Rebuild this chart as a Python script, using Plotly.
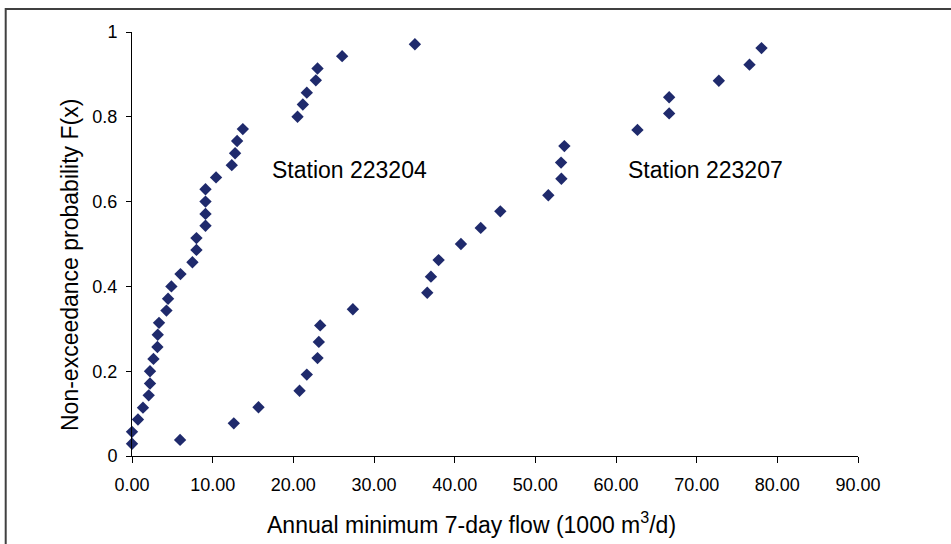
import plotly.graph_objects as go

# Station 223204
s204_x = [0.0, 0.0, 0.74, 1.36, 2.07, 2.23, 2.23, 2.66, 3.15, 3.19, 3.35, 4.27, 4.47, 4.88,
          6.01, 7.49, 7.99, 7.99, 9.11, 9.11, 9.11, 9.11, 10.42, 12.37, 12.78, 13.03, 13.74,
          20.52, 21.18, 21.67, 22.79, 23.0, 26.05, 35.07]
s204_y = [0.029, 0.057, 0.086, 0.114, 0.143, 0.171, 0.200, 0.229, 0.257, 0.286, 0.314, 0.343,
          0.371, 0.400, 0.429, 0.457, 0.486, 0.514, 0.543, 0.571, 0.600, 0.629, 0.657, 0.686,
          0.714, 0.743, 0.771, 0.800, 0.829, 0.857, 0.886, 0.914, 0.943, 0.971]

# Station 223207
s207_x = [5.96, 12.62, 15.68, 20.77, 21.67, 23.0, 23.16, 23.33, 27.38, 36.6, 37.06, 38.01,
          40.78, 43.23, 45.66, 51.61, 53.23, 53.19, 53.6, 62.66, 66.59, 66.59, 72.75, 76.55, 78.04]
s207_y = [0.038, 0.077, 0.115, 0.154, 0.192, 0.231, 0.269, 0.308, 0.346, 0.385, 0.423, 0.462,
          0.500, 0.538, 0.577, 0.615, 0.654, 0.692, 0.731, 0.769, 0.808, 0.846, 0.885, 0.923, 0.962]

x_ticks = [0, 10, 20, 30, 40, 50, 60, 70, 80, 90]
x_tick_text = ["0.00", "10.00", "20.00", "30.00", "40.00", "50.00", "60.00", "70.00", "80.00", "90.00"]
y_ticks = [0, 0.2, 0.4, 0.6, 0.8, 1]
y_tick_text = ["0", "0.2", "0.4", "0.6", "0.8", "1"]

labels = ["Station 223204", "Station 223207"]
label_x = [27.0, 71.05]
label_y = [0.675, 0.675]

x_title = "Annual minimum 7-day flow (1000 m<sup>3</sup>/d)"
y_title = "Non-exceedance probability F(x)"

FONT = "Liberation Sans, Arial, sans-serif"
MARK = dict(symbol="diamond", size=9.5, color="#1F2A6C", line=dict(width=0))

fig = go.Figure()
fig.add_trace(go.Scatter(x=s204_x, y=s204_y, mode="markers", marker=MARK,
                         cliponaxis=False, name=labels[0]))
fig.add_trace(go.Scatter(x=s207_x, y=s207_y, mode="markers", marker=MARK,
                         cliponaxis=False, name=labels[1]))

for t, x, y in zip(labels, label_x, label_y):
    fig.add_annotation(x=x, y=y, xref="x", yref="y", text=t, showarrow=False,
                       xanchor="center", yanchor="middle",
                       font=dict(family=FONT, size=23, color="black"))

L, R, T, B, W, H = 132, 93, 32, 88, 951, 544
pw, ph = W - L - R, H - T - B

def px(xp):
    return (xp - L) / pw

def py(yp):
    return (H - B - yp) / ph

# axis titles placed as annotations to match the reference offsets
fig.add_annotation(x=px(471.5), y=py(523), xref="paper", yref="paper", text=x_title,
                   showarrow=False, xanchor="center", yanchor="middle",
                   font=dict(family=FONT, size=23, color="black"))
fig.add_annotation(x=px(70), y=py(265), xref="paper", yref="paper", text=y_title,
                   showarrow=False, xanchor="center", yanchor="middle", textangle=-90,
                   font=dict(family=FONT, size=23, color="black"))

fig.add_shape(type="rect", xref="paper", yref="paper",
              x0=px(5.7), x1=px(955), y0=py(549), y1=py(9),
              line=dict(color="#404040", width=2), fillcolor="rgba(0,0,0,0)", layer="below")

fig.update_layout(
    width=W, height=H,
    margin=dict(l=L, r=R, t=T, b=B),
    paper_bgcolor="white", plot_bgcolor="white",
    showlegend=False,
    font=dict(family=FONT, color="black"),
    xaxis=dict(range=[0, 90], tickvals=x_ticks, ticktext=x_tick_text,
               showline=True, linecolor="black", linewidth=1,
               ticks="outside", ticklen=6, tickcolor="black",
               showgrid=False, zeroline=False, ticklabelstandoff=6,
               tickfont=dict(size=18, family=FONT)),
    yaxis=dict(range=[0, 1], tickvals=y_ticks, ticktext=y_tick_text,
               showline=True, linecolor="black", linewidth=1,
               ticks="outside", ticklen=5, tickcolor="black",
               showgrid=False, zeroline=False, ticklabelstandoff=5,
               tickfont=dict(size=18, family=FONT)),
)

fig.write_html("out.html")
